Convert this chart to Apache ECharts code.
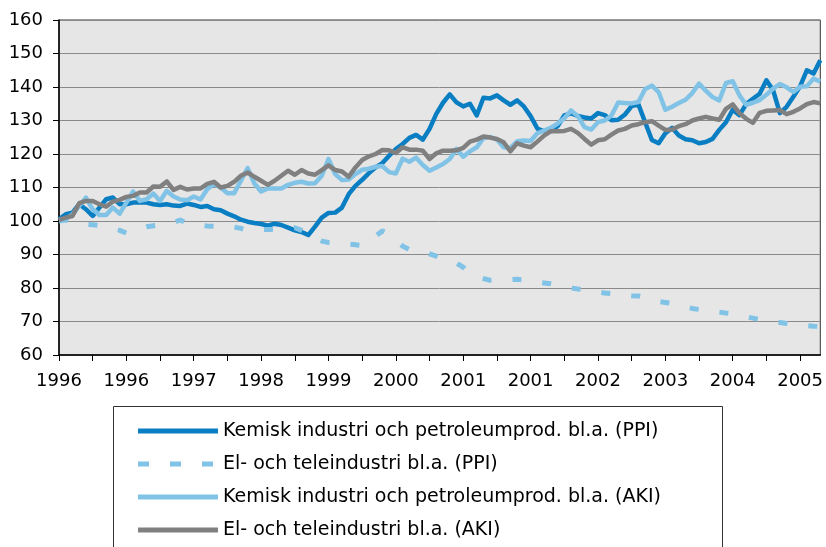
<!DOCTYPE html>
<html><head><meta charset="utf-8">
<script src="https://cdn.jsdelivr.net/npm/echarts@6/dist/echarts.min.js"></script>
<style>html,body{margin:0;padding:0;background:#fff}#c{width:826px;height:547px}</style>
</head><body><div id="c"></div>
<script>
// Monthly categories, Jan 1996 .. Jun 2005
const startYear = 1996;
const monthCount = 114;
const months = [];
for (let i = 0; i < monthCount; i++) {
  const y = startYear + Math.floor(i / 12), m = i % 12 + 1;
  months.push(y + '-' + (m < 10 ? '0' : '') + m);
}

const seriesNames = [
  'Kemisk industri och petroleumprod. bl.a. (PPI)',
  'El- och teleindustri bl.a. (PPI)',
  'Kemisk industri och petroleumprod. bl.a. (AKI)',
  'El- och teleindustri bl.a. (AKI)'
];

const ppiKemisk = [
  100.5, 102, 102.5, 105, 103.5, 101.5, 104, 106.5, 107, 105,
  105, 105.5, 105.5, 105.5, 105, 104.8, 105, 104.6, 104.5, 105.2,
  104.8, 104.2, 104.5, 103.5, 103.2, 102.2, 101.4, 100.4, 99.8, 99.4,
  99.1, 98.6, 99.2, 98.8, 98.0, 97.2, 96.7, 95.8, 98.3, 101,
  102.4, 102.5, 104, 108, 110.5, 112.3, 114.3, 116.0, 117.3, 119.5,
  121.5, 123, 124.8, 125.7, 124.3, 127.5, 132, 135.3, 137.8, 135.4,
  134.2, 135, 131.5, 136.8, 136.6, 137.5, 136.0, 134.7, 136, 134.2,
  131.3, 127.6, 126.8, 126.8, 128.3, 131.5, 132.1, 131.4, 130.9, 130.6,
  132.2, 131.6, 130.1, 130.2, 131.8, 134.3, 134.8, 129.5, 124.2, 123.2,
  126.2, 127.8, 125.5, 124.4, 124.1, 123.2, 123.6, 124.5, 127.2, 129.5,
  133.2, 131.6, 134.9, 136.5, 138, 142, 139, 132.2, 134.1, 137.1,
  140.2, 145, 144, 148
];

const ppiEl = [
  100, 100.3, 99.8, 99.3, 99, 98.9, 98.7, 98.2, 97.7, 97.2,
  96.4, 97, 97.8, 98.3, 98.6, 98.8, 99.2, 99.6, 100.3, 99.3,
  99.0, 98.8, 98.5, 98.4, 98.3, 98.2, 98.2, 97.8, 97.1, 97.2,
  97.4, 97.5, 97.5, 97.6, 97.8, 98, 97.2, 96.2, 95, 94,
  93.6, 93.5, 93.3, 93.1, 92.9, 92.7, 93.8, 95.5, 97, 96,
  94.5, 92.5, 91.5, 91.4, 91.0, 90.2, 89.5, 88.6, 87.8, 87.4,
  86.2, 84.3, 83.3, 82.8, 82.3, 82.3, 82.4, 82.5, 82.6, 82.4,
  82, 81.7, 81.5, 81.3, 80.9, 80.4, 80, 79.7, 79.5, 79.1,
  78.8, 78.5, 78.3, 78.1, 77.9, 77.7, 77.6, 77.2, 76.6, 76,
  75.7, 75.4, 74.9, 74.4, 73.9, 73.6, 73.4, 73.1, 72.8, 72.5,
  72.3, 71.9, 71.4, 71, 70.6, 70.3, 70, 69.7, 69.4, 69.2,
  69, 68.8, 68.6, 68.5
];

const akiKemisk = [
  100.3, 100.5, 102, 104.5, 107, 103.5, 101.8, 101.8, 104, 102.2,
  105.5, 108.8, 106, 106.5, 108.2, 106, 109, 107.3, 106.4, 106.2,
  107.3, 106.4, 109.5, 111, 110, 108.3, 108.3, 112, 115.8, 111.2,
  108.8, 109.7, 109.7, 109.7, 110.8, 111.4, 111.7, 111.2, 111.3, 113.5,
  118.5, 114, 112.2, 112.4, 114, 115.3, 115.6, 116.2, 116.4, 114.6,
  114.2, 118.6, 117.7, 118.9, 116.7, 115, 116, 117, 118.5, 121.5,
  119.2, 120.8, 122, 124.7, 125.1, 124.3, 122, 121.8, 123.8, 124,
  123.9, 126.2, 127, 127.8, 129.1, 130.7, 133, 131.3, 128, 127.3,
  129.5, 130, 131.5, 135.4, 135.2, 135.1, 135.5, 139.4, 140.4, 138.5,
  133.2, 134.1, 135.2, 136.2, 138.2, 141, 138.9, 137, 136, 141.2,
  141.7, 137.5, 134.7, 135.3, 136.1, 137.7, 139.5, 140.9, 139.9, 138.5,
  140.1, 140.2, 142.5, 141.6
];

const akiEl = [
  100.3, 101, 101.5, 105.3, 106, 106, 105, 104.3, 105.8, 106.3,
  107.2, 107.5, 108.5, 108.5, 110.3, 110.2, 111.8, 109.3, 110.2, 109.4,
  109.7, 109.7, 111.1, 111.7, 110, 110.5, 111.7, 113.5, 114.5, 113.2,
  112, 110.8, 112, 113.5, 115, 113.8, 115.2, 114.2, 113.8, 115.2,
  116.6, 115.2, 114.8, 113.2, 116, 118.2, 119.3, 120, 121.2, 121.1,
  120.3, 122, 121.3, 121.3, 121, 118.5, 120.2, 121, 121, 121.1,
  121.8, 123.7, 124.3, 125.2, 124.9, 124.5, 123.5, 120.8, 123.2, 122.5,
  122, 123.7, 125.5, 126.8, 126.8, 126.9, 127.5, 126.3, 124.5, 122.8,
  124.1, 124.4, 125.8, 127, 127.5, 128.5, 128.9, 129.5, 129.8, 128.5,
  127.2, 127.3, 128.3, 128.9, 130, 130.6, 131.1, 130.6, 130.2, 133.5,
  134.8, 132.2, 130.5, 129.3, 132.3, 132.9, 133, 133.1, 131.9, 132.6,
  133.6, 134.9, 135.5, 135.1
];

const FONT = 'DejaVu Sans';
const chart = echarts.init(document.getElementById('c'), null, {renderer: 'canvas'});

function lineSeries(name, data, color, width, type) {
  return {
    name: name, type: 'line', data: data, symbol: 'none', smooth: false,
    lineStyle: {color: color, width: width, type: type || 'solid', cap: 'butt', join: 'round'},
    itemStyle: {color: color},
    emphasis: {disabled: true}
  };
}

const solidIcon = 'path://M0 0H80V5H0Z';
const dashIcon = 'path://M0 0H11V5H0Z M32 0H43V5H32Z M64 0H75V5H64Z M80 0H80V5H80Z';

chart.setOption({
  animation: false,
  backgroundColor: '#ffffff',
  grid: {left: 59, right: 4, top: 20, bottom: 192, show: true,
         backgroundColor: '#e6e6e6', borderColor: '#333333', borderWidth: 1},
  graphic: [{
    type: 'rect', z: 0, silent: true,
    shape: {x: 113.5, y: 406.5, width: 609, height: 170},
    style: {fill: '#ffffff', stroke: '#333333', lineWidth: 1}
  }],
  legend: {
    z: 5, orient: 'vertical', left: 138, top: 421,
    itemWidth: 80, itemHeight: 5, itemGap: 13, padding: 0,
    textStyle: {fontFamily: FONT, fontSize: 19, color: '#000', lineHeight: 20},
    data: [
      {name: seriesNames[0], icon: solidIcon},
      {name: seriesNames[1], icon: dashIcon},
      {name: seriesNames[2], icon: solidIcon},
      {name: seriesNames[3], icon: solidIcon}
    ]
  },
  xAxis: {
    type: 'category', data: months, boundaryGap: false,
    axisLine: {lineStyle: {color: '#000', width: 1.5}},
    axisTick: {interval: 4, length: 6, lineStyle: {color: '#000'}},
    axisLabel: {interval: 9, margin: 17, fontFamily: FONT, fontSize: 18, color: '#000',
                formatter: function (v) { return v.slice(0, 4); }},
    splitLine: {show: false}
  },
  yAxis: {
    type: 'value', min: 60, max: 160, interval: 10,
    axisLine: {show: true, lineStyle: {color: '#000', width: 1.5}},
    axisTick: {show: true, length: 6, lineStyle: {color: '#000'}},
    axisLabel: {margin: 16, fontFamily: FONT, fontSize: 18, color: '#000'},
    splitLine: {lineStyle: {color: '#8a8a8a', width: 1}}
  },
  series: [
    lineSeries(seriesNames[0], ppiKemisk, '#0a7ec2', 4.5),
    lineSeries(seriesNames[1], ppiEl, '#80c3e6', 5, [9, 21]),
    lineSeries(seriesNames[2], akiKemisk, '#80c3e6', 4.5),
    lineSeries(seriesNames[3], akiEl, '#808080', 4.5)
  ]
});
</script></body></html>
